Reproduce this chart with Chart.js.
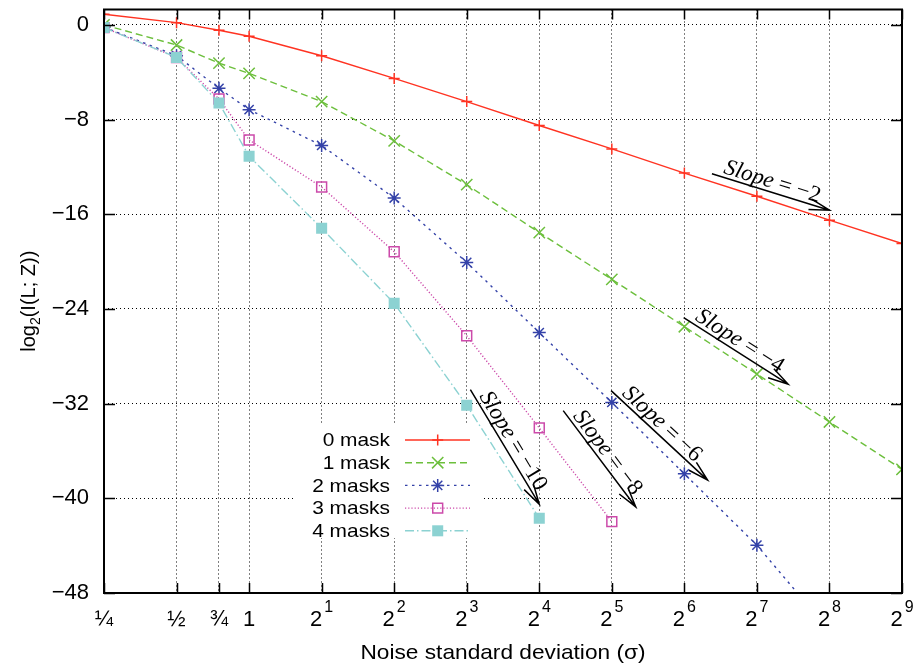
<!DOCTYPE html>
<html>
<head>
<meta charset="utf-8">
<script src="https://cdn.jsdelivr.net/npm/chart.js@4.4.0/dist/chart.umd.min.js"></script>
<style>
  html, body { margin: 0; padding: 0; background: #fff; }
  canvas { display: block; }
</style>
</head>
<body>
<canvas id="chart" width="913" height="666"></canvas>
<script>
// noise standard deviation (sigma) and log2 I(L;Z) per number of masks
const sigma = [0.25, 0.5, 0.75, 1, 2, 4, 8, 16, 32, 64, 128, 256, 512];
const mask0 = [0.9, 0.19, -0.45, -0.96, -2.61, -4.52, -6.48, -8.5, -10.48, -12.52, -14.48, -16.5, -18.47];
const mask1 = [0, -1.7, -3.23, -4.1, -6.48, -9.8, -13.5, -17.55, -21.5, -25.5, -29.5, -33.55, -37.55];
const mask2 = [-0.2, -2.6, -5.36, -7.16, -10.19, -14.63, -20.07, -26.0, -31.9, -37.93, -43.96, -51.2];
const mask3 = [-0.23, -2.75, -6.26, -9.72, -13.7, -19.17, -26.27, -34.05, -41.97];
const mask4 = [-0.23, -2.75, -6.6, -11.1, -17.18, -23.53, -32.14, -41.68];
const seriesNames = ['0 mask', '1 mask', '2 masks', '3 masks', '4 masks'];

const xTicks = [0.25, 0.5, 0.75, 1, 2, 4, 8, 16, 32, 64, 128, 256, 512];
const xTickBase = ['¼', '½', '¾', '1', '2', '2', '2', '2', '2', '2', '2', '2', '2'];
const xTickSup = ['', '', '', '', '1', '2', '3', '4', '5', '6', '7', '8', '9'];
const yTicks = [-48, -40, -32, -24, -16, -8, 0];

// slope guides: [log2(sigma), value] start and end, and their labels
const slopeLabels = ['−2', '−4', '−6', '−8', '−10'];
const slopeFrom = [[6.38, -12.58], [5.99, -24.73], [4.99, -30.9], [4.33, -32.59], [3.05, -30.82]];
const slopeTo = [[8.0, -15.66], [7.43, -30.35], [6.32, -38.46], [5.33, -40.73], [4.0, -40.5]];

const colors = ['#ff3322', '#6cbf3c', '#3442a8', '#cc4aaa', '#8cd2d2'];
const dashes = [[], [7, 4], [2.5, 4.5], [1.2, 2], [9, 3, 1.5, 3]];
const marks = ['cross', 'crossRot', 'star', 'rect', 'rect'];
const markSize = [5.5, 8, 6.5, 7, 7.8];

function pts(vals) {
  return vals.map((v, i) => ({ x: sigma[i], y: v }));
}

const allSeries = [mask0, mask1, mask2, mask3, mask4];
const datasets = allSeries.map((vals, i) => ({
  label: seriesNames[i],
  data: pts(vals),
  order: 4 - i,   // later series on top, as in the original
  borderColor: colors[i],
  borderWidth: 1.4,
  borderDash: dashes[i],
  pointStyle: marks[i],
  pointRadius: markSize[i],
  pointBorderWidth: i == 4 ? 0 : 1.5,
  pointBorderColor: colors[i],
  pointBackgroundColor: i == 4 ? colors[i] : 'rgba(0,0,0,0)',
  tension: 0,
  fill: false
}));

const SANS = '"Liberation Sans", Arial, sans-serif';
const SERIF = '"Liberation Serif", "Times New Roman", serif';

const decor = {
  id: 'decor',
  beforeDatasetsDraw(chart) {
    // opaque key box hides the grid behind it
    const ctx = chart.ctx;
    ctx.save();
    ctx.fillStyle = '#fff';
    ctx.fillRect(293, 424, 190, 114);
    ctx.restore();
  },
  afterDraw(chart) {
    const ctx = chart.ctx;
    const a = chart.chartArea;
    const xs = chart.scales.x, ys = chart.scales.y;
    ctx.save();

    // frame
    ctx.strokeStyle = '#000';
    ctx.lineWidth = 2;
    ctx.strokeRect(a.left, a.top, a.right - a.left, a.bottom - a.top);

    // inward tick marks
    ctx.lineWidth = 1.5;
    ctx.beginPath();
    xTicks.forEach(v => {
      const px = Math.round(xs.getPixelForValue(v)) + 0.5;
      ctx.moveTo(px, a.bottom); ctx.lineTo(px, a.bottom - 10);
      ctx.moveTo(px, a.top); ctx.lineTo(px, a.top + 10);
    });
    yTicks.forEach(v => {
      const py = Math.round(ys.getPixelForValue(v)) + 0.5;
      ctx.moveTo(a.left, py); ctx.lineTo(a.left + 11, py);
      ctx.moveTo(a.right, py); ctx.lineTo(a.right - 11, py);
    });
    ctx.stroke();

    // x tick labels with superscripts
    ctx.fillStyle = '#000';
    ctx.textBaseline = 'alphabetic';
    ctx.textAlign = 'left';
    xTicks.forEach((v, i) => {
      const px = xs.getPixelForValue(v);
      ctx.font = '22px ' + SANS;
      const wb = ctx.measureText(xTickBase[i]).width;
      ctx.font = '16px ' + SANS;
      const ws = xTickSup[i] ? ctx.measureText(xTickSup[i]).width + 2 : 0;
      const x0 = px - (wb + ws) / 2;
      ctx.font = '22px ' + SANS;
      ctx.fillText(xTickBase[i], x0, 626);
      if (xTickSup[i]) {
        ctx.font = '16px ' + SANS;
        ctx.fillText(xTickSup[i], x0 + wb + 2, 612);
      }
    });

    // x title
    ctx.save();
    ctx.translate((a.left + a.right) / 2, 659);
    ctx.scale(1.08, 1);
    ctx.font = '21px ' + SANS;
    ctx.textAlign = 'center';
    ctx.fillText('Noise standard deviation (σ)', 0, 0);
    ctx.restore();

    // y title with subscript
    ctx.save();
    ctx.translate(35, (a.top + a.bottom) / 2);
    ctx.rotate(-Math.PI / 2);
    ctx.textAlign = 'left';
    ctx.font = '20px ' + SANS;
    const w1 = ctx.measureText('log').width;
    const w3 = ctx.measureText('(I(L; Z))').width;
    ctx.font = '14px ' + SANS;
    const w2 = ctx.measureText('2').width;
    let tx = -(w1 + w2 + w3) / 2;
    ctx.font = '20px ' + SANS;
    ctx.fillText('log', tx, 0);
    ctx.font = '14px ' + SANS;
    ctx.fillText('2', tx + w1, 5);
    ctx.font = '20px ' + SANS;
    ctx.fillText('(I(L; Z))', tx + w1 + w2, 0);
    ctx.restore();

    // key
    seriesNames.forEach((name, i) => {
      const ky = 440 + i * 22.7;
      ctx.save();
      ctx.translate(390, ky);
      ctx.scale(1.1, 1);
      ctx.font = '19px ' + SANS;
      ctx.textAlign = 'right';
      ctx.textBaseline = 'middle';
      ctx.fillStyle = '#000';
      ctx.fillText(name, 0, 1);
      ctx.restore();

      ctx.save();
      ctx.strokeStyle = colors[i];
      ctx.lineWidth = 1.4;
      ctx.setLineDash(dashes[i]);
      ctx.beginPath();
      ctx.moveTo(405, ky); ctx.lineTo(470, ky);
      ctx.stroke();
      ctx.setLineDash([]);
      ctx.fillStyle = i == 4 ? colors[i] : 'rgba(0,0,0,0)';
      ctx.lineWidth = 1.5;
      Chart.helpers.drawPoint(ctx, {
        pointStyle: marks[i], radius: markSize[i], rotation: 0,
        borderWidth: i == 4 ? 0 : 1.5
      }, 437.7, ky);
      ctx.restore();
    });

    // slope guides
    slopeLabels.forEach((lab, i) => {
      const x0 = xs.getPixelForValue(2 ** slopeFrom[i][0]);
      const y0 = ys.getPixelForValue(slopeFrom[i][1]);
      const x1 = xs.getPixelForValue(2 ** slopeTo[i][0]);
      const y1 = ys.getPixelForValue(slopeTo[i][1]);
      const ang = Math.atan2(y1 - y0, x1 - x0);
      ctx.save();
      ctx.strokeStyle = '#000';
      ctx.lineWidth = 1.5;
      ctx.beginPath();
      ctx.moveTo(x0, y0); ctx.lineTo(x1, y1);
      ctx.moveTo(x1 - 21 * Math.cos(ang - 0.26), y1 - 21 * Math.sin(ang - 0.26));
      ctx.lineTo(x1, y1);
      ctx.lineTo(x1 - 21 * Math.cos(ang + 0.26), y1 - 21 * Math.sin(ang + 0.26));
      ctx.stroke();

      ctx.translate(x0, y0);
      ctx.rotate(ang);
      ctx.fillStyle = '#000';
      ctx.textAlign = 'left';
      ctx.textBaseline = 'alphabetic';
      ctx.font = 'italic 23px ' + SERIF;
      ctx.fillText('Slope', 10, -4);
      const ws = ctx.measureText('Slope').width;
      ctx.font = '23px ' + SERIF;
      ctx.fillText(' = ' + lab, 10 + ws, -4);
      ctx.restore();
    });

    ctx.restore();
  }
};

const gridOpts = { color: '#000', lineWidth: 1, drawTicks: false };

function noPad(s) {
  s.paddingTop = 0; s.paddingBottom = 0;
  s.paddingLeft = 0; s.paddingRight = 0;
}

new Chart(document.getElementById('chart'), {
  type: 'line',
  data: { datasets: datasets },
  options: {
    responsive: false,
    animation: false,
    devicePixelRatio: 1,
    layout: { padding: { top: 7, right: 11, left: 0, bottom: 0 } },
    plugins: { legend: { display: false }, tooltip: { enabled: false } },
    scales: {
      x: {
        type: 'logarithmic',
        min: 0.25,
        max: 512,
        afterBuildTicks: s => { s.ticks = xTicks.map(v => ({ value: v })); },
        afterFit: s => { s.height = 73; noPad(s); },
        ticks: { display: false },
        grid: gridOpts,
        border: { display: false, dash: [1, 3] }
      },
      y: {
        type: 'linear',
        min: -48,
        max: 1.3,
        afterBuildTicks: s => { s.ticks = yTicks.map(v => ({ value: v })); },
        afterFit: s => { s.width = 104; noPad(s); },
        ticks: {
          color: '#000',
          padding: 15,
          font: { family: 'Liberation Sans', size: 22 },
          callback: v => v < 0 ? '−' + Math.abs(v) : String(v)
        },
        grid: gridOpts,
        border: { display: false, dash: [1, 3] }
      }
    }
  },
  plugins: [decor]
});
</script>
</body>
</html>
